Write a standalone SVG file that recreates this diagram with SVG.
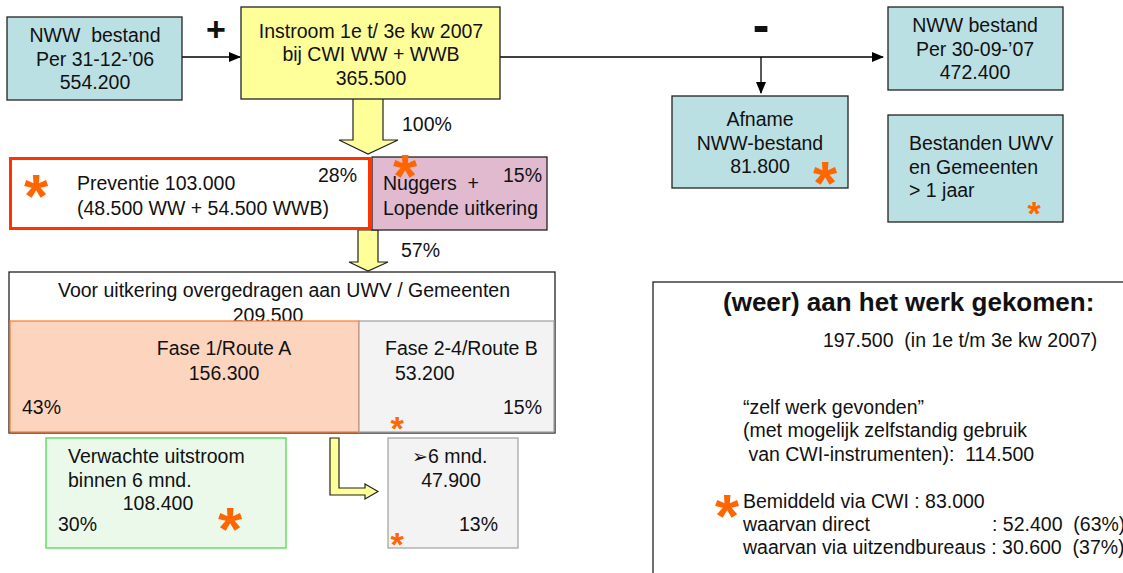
<svg xmlns="http://www.w3.org/2000/svg" width="1123" height="573" viewBox="0 0 1123 573">
<style>
text{font-family:"Liberation Sans",Arial,sans-serif;font-size:19.5px;fill:#111}
.c{text-anchor:middle}
.b{font-weight:bold}
.star{font-family:"Liberation Sans",Arial,sans-serif;font-weight:bold;fill:#ff6600;text-anchor:middle}
.big{font-size:62px}
.sm{font-size:34px}
.cyan{fill:#bbe0e3;stroke:#222;stroke-width:1.3}
.box{stroke:#222;stroke-width:1.3}
.conn{stroke:#000;stroke-width:1.3;fill:none}
.blk{fill:#ffff99;stroke:#222;stroke-width:1.2}
</style>
<defs>
<marker id="ah" markerWidth="12" markerHeight="10" refX="11" refY="5" orient="auto" markerUnits="userSpaceOnUse">
<path d="M0,0 L12,5 L0,10 Z" fill="#000"/>
</marker>
</defs>

<g id="connectors">
<line class="conn" x1="173" y1="57" x2="240" y2="57" marker-end="url(#ah)"/>
<line class="conn" x1="500" y1="57" x2="883" y2="57" marker-end="url(#ah)"/>
<line class="conn" x1="761" y1="57" x2="761" y2="93" marker-end="url(#ah)"/>
<path class="blk" d="M353,96 H383 V140 H398 L368,154 L339,140 H353 Z"/>
<path class="blk" d="M358,230 H378 V262 H388 L368,271 L349,262 H358 Z"/>
<path class="blk" d="M330,438 H339 V488 H365 V484 L378,491.5 L365,499 V495 H330 Z"/>
</g>

<g id="plus"><text class="b c" x="216" y="41" style="font-size:34px">+</text></g>
<g id="minus"><text class="b c" x="761" y="42" style="font-size:50px">-</text></g>

<g id="nww-start">
<rect class="cyan" x="7" y="17" width="175" height="83"/>
<text class="c" x="95" y="42" xml:space="preserve">NWW  bestand</text>
<text class="c" x="95" y="66">Per 31-12-’06</text>
<text class="c" x="95" y="89">554.200</text>
</g>

<g id="instroom">
<rect class="box" x="241" y="7" width="259" height="92" fill="#ffff99"/>
<text class="c" x="371" y="38">Instroom 1e t/ 3e kw 2007</text>
<text class="c" x="371" y="61">bij CWI WW + WWB</text>
<text class="c" x="371" y="85">365.500</text>
</g>

<g id="pct100"><text x="402" y="131">100%</text></g>
<g id="pct57"><text x="401" y="257">57%</text></g>

<g id="nww-end">
<rect class="cyan" x="888" y="7" width="175" height="83"/>
<text class="c" x="975" y="32">NWW bestand</text>
<text class="c" x="975" y="56">Per 30-09-’07</text>
<text class="c" x="975" y="79">472.400</text>
</g>

<g id="afname">
<rect class="cyan" x="672" y="96" width="176" height="92"/>
<text class="c" x="760" y="126">Afname</text>
<text class="c" x="760" y="150">NWW-bestand</text>
<text class="c" x="760" y="173">81.800</text>
<text class="star big" x="825" y="204">*</text>
</g>

<g id="bestanden">
<rect class="cyan" x="888" y="115" width="175" height="107"/>
<text x="909" y="150">Bestanden UWV</text>
<text x="909" y="174">en Gemeenten</text>
<text x="909" y="197">&gt; 1 jaar</text>
<text class="star sm" x="1034" y="225">*</text>
</g>

<g id="preventie">
<rect x="10.5" y="158.5" width="359" height="70" fill="#fff" stroke="#ff3300" stroke-width="3"/>
<text class="star big" x="36" y="217">*</text>
<text x="77" y="190">Preventie 103.000</text>
<text x="77" y="215">(48.500 WW + 54.500 WWB)</text>
<text x="318" y="182">28%</text>
</g>

<g id="nuggers">
<rect class="box" x="372" y="157" width="175" height="73" fill="#e1bad0"/>
<text x="383" y="190" xml:space="preserve">Nuggers  +</text>
<text x="383" y="215">Lopende uitkering</text>
<text x="503" y="182">15%</text>
<text class="star big" x="405" y="197">*</text>
</g>

<g id="overgedragen">
<rect class="box" x="9" y="272" width="546" height="161" fill="#fff"/>
<text class="c" x="284" y="297">Voor uitkering overgedragen aan UWV / Gemeenten</text>
<text class="c" x="268" y="322">209.500</text>
</g>

<g id="fase1">
<rect x="10" y="321" width="349" height="111" fill="#fdd5be" stroke="#ff7a2a" stroke-width="1.2"/>
<text class="c" x="224" y="355">Fase 1/Route A</text>
<text class="c" x="224" y="380">156.300</text>
<text x="22" y="414">43%</text>
</g>

<g id="fase2">
<rect x="359" y="321" width="195" height="111" fill="#f3f3f3" stroke="#a0a0a0" stroke-width="1.2"/>
<text x="385" y="355">Fase 2-4/Route B</text>
<text x="395" y="380">53.200</text>
<text x="503" y="414">15%</text>
<text class="star sm" x="397" y="440">*</text>
</g>

<g id="verwachte">
<rect x="46" y="438" width="240" height="110" fill="#eaf9ea" stroke="#66dd66" stroke-width="1.5"/>
<text x="68" y="463">Verwachte uitstroom</text>
<text x="68" y="487">binnen 6 mnd.</text>
<text class="c" x="158" y="510">108.400</text>
<text x="58" y="531">30%</text>
<text class="star big" x="230" y="550">*</text>
</g>

<g id="zesmnd">
<rect x="388" y="438" width="130" height="110" fill="#f3f3f3" stroke="#a0a0a0" stroke-width="1.2"/>
<text x="412" y="463"><tspan style="font-family:'DejaVu Sans',sans-serif;font-size:19px">➢</tspan>6 mnd.</text>
<text class="c" x="451" y="487">47.900</text>
<text x="459" y="531">13%</text>
<text class="star sm" x="397" y="556">*</text>
</g>

<g id="werk">
<rect x="653" y="282" width="500" height="320" fill="#fff" stroke="#222" stroke-width="1.3"/>
<text class="b" x="723" y="311" style="font-size:26px">(weer) aan het werk gekomen:</text>
<text x="823" y="347" xml:space="preserve">197.500  (in 1e t/m 3e kw 2007)</text>
<text x="743" y="414">“zelf werk gevonden”</text>
<text x="743" y="437">(met mogelijk zelfstandig gebruik</text>
<text x="743" y="461" xml:space="preserve"> van CWI-instrumenten):  114.500</text>
<text class="star big" x="727" y="537">*</text>
<text x="743" y="508">Bemiddeld via CWI : 83.000</text>
<text x="743" y="531">waarvan direct</text>
<text x="992" y="531" xml:space="preserve">: 52.400  (63%)</text>
<text x="743" y="554" xml:space="preserve">waarvan via uitzendbureaus : 30.600  (37%)</text>
</g>
</svg>
